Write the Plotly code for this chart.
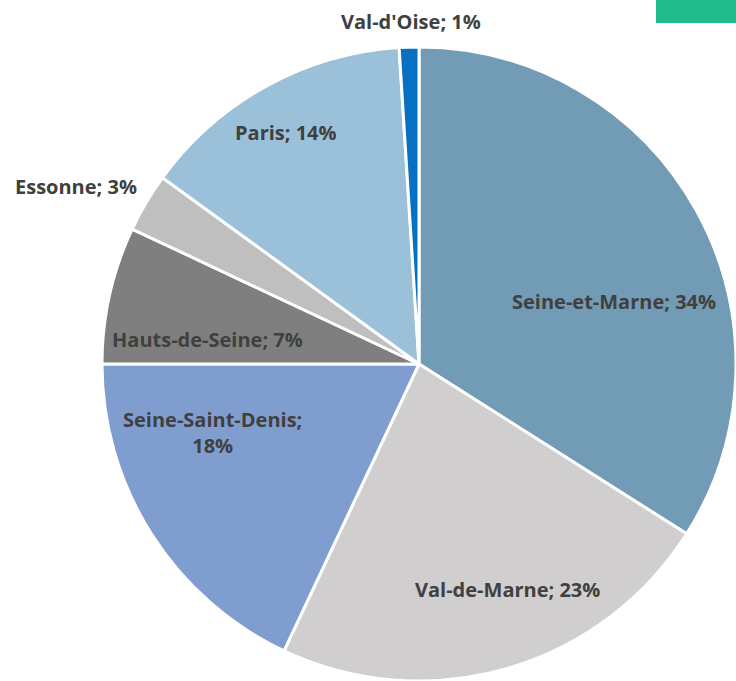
import plotly.graph_objects as go

# Data
departements = ["Seine-et-Marne", "Val-de-Marne", "Seine-Saint-Denis", "Hauts-de-Seine",
                "Essonne", "Paris", "Val-d'Oise"]
parts = [34, 23, 18, 7, 3, 14, 1]

# Styles
colors = ["#729BB6", "#D0CECF", "#809DD0", "#7F7F7F", "#BFBFBF", "#9BC0DA", "#0870C2"]
W, H = 736, 681
# label centres (pixels), one per slice
label_px = [(614, 301), (507, 589), (212, 432), (208, 339), (76, 186), (286, 133), (411, 21)]
label_text = [f"{d}; {p}%" for d, p in zip(departements, parts)]
label_text[2] = f"{departements[2]};<br>{parts[2]}%"

cx, cy, r = 419, 364, 317

fig = go.Figure(go.Pie(
    labels=departements,
    values=parts,
    sort=False,
    direction="clockwise",
    rotation=0,
    marker=dict(colors=colors, line=dict(color="white", width=3)),
    textinfo="none",
    hoverinfo="label+percent",
    showlegend=False,
    domain=dict(x=[(cx - r) / W, min(1, (cx + r) / W)],
                y=[max(0, (H - cy - r) / H), (H - cy + r) / H]),
))

for t, (px, py) in zip(label_text, label_px):
    fig.add_annotation(
        x=px / W, y=1 - py / H, xref="paper", yref="paper",
        text=t, showarrow=False, xanchor="center", yanchor="middle",
        font=dict(family="Open Sans", size=20, color="#404040", weight=700),
        align="center",
    )

fig.add_shape(type="rect", xref="paper", yref="paper",
              x0=656 / W, x1=1, y0=1 - 23 / H, y1=1,
              fillcolor="#22BB8B", line=dict(width=0))

fig.update_layout(
    width=W, height=H,
    margin=dict(l=0, r=0, t=0, b=0),
    paper_bgcolor="white", plot_bgcolor="white",
)

fig.write_html("out.html", config={"displayModeBar": False},
               post_script="document.body.style.margin='0';")
